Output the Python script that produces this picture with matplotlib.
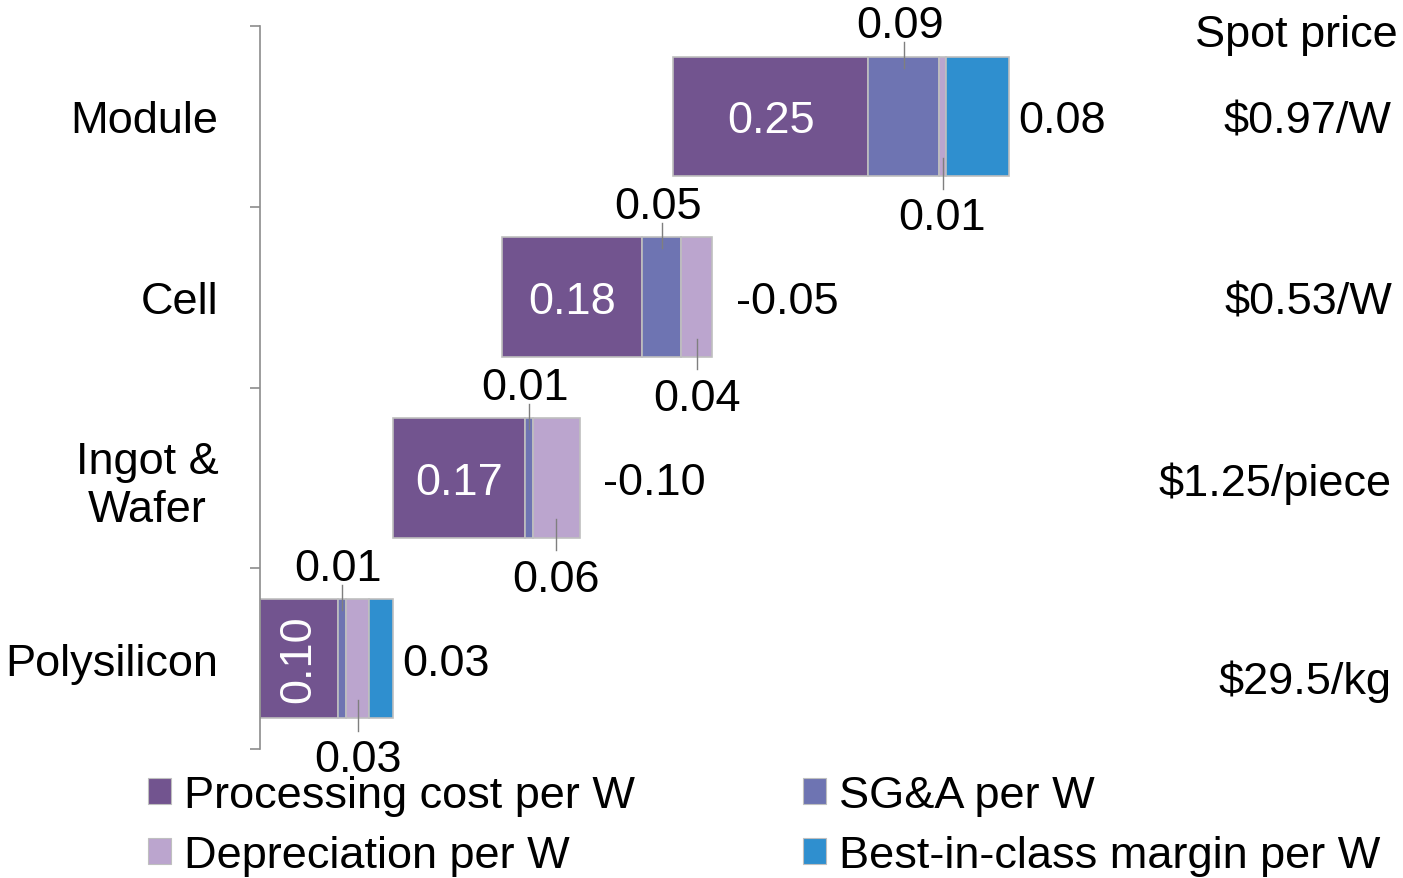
import matplotlib
matplotlib.use("Agg")
import matplotlib.pyplot as plt
import matplotlib.transforms as mtransforms
from matplotlib.patches import Patch

plt.rcParams['font.family'] = ['Liberation Sans', 'DejaVu Sans']

# value chain stages, bottom to top
stages = ['Polysilicon', 'Ingot &\nWafer', 'Cell', 'Module']
processing = [0.10, 0.17, 0.18, 0.25]
sga = [0.01, 0.01, 0.05, 0.09]
depreciation = [0.03, 0.06, 0.04, 0.01]
margin = [0.03, -0.10, -0.05, 0.08]
spot_price = ['$29.5/kg', '$1.25/piece', '$0.53/W', '$0.97/W']

series_names = ['Processing cost per W', 'SG&A per W',
                'Depreciation per W', 'Best-in-class margin per W']
colors = ['#72548F', '#6E74B2', '#BBA5CE', '#2F8FCF']

FS = 32.5
edge = '#BFBFBF'
lead = '#7F7F7F'
bh = 0.66

fig = plt.figure(figsize=(14.03, 8.79), dpi=100)
ax = fig.add_axes([260 / 1403, 1 - 750 / 879, 780 / 1403, 723 / 879])
ax.set_xlim(0, 1.0)
ax.set_ylim(-0.5, 3.5)

start = 0.0
for i in range(len(stages)):
    y = i
    left = start
    # processing cost
    ax.barh(y, processing[i], left=left, height=bh, color=colors[0],
            edgecolor=edge, linewidth=1.2)
    rot = 90 if processing[i] < 0.15 else 0
    ax.text(left + processing[i] / 2, y, f'{processing[i]:.2f}', color='white',
            ha='center', va='center_baseline' if rot == 0 else 'center',
            fontsize=FS, rotation=rot)
    left += processing[i]

    # SG&A, label above
    ax.barh(y, sga[i], left=left, height=bh, color=colors[1],
            edgecolor=edge, linewidth=1.2)
    xc = left + sga[i] / 2
    ax.plot([xc, xc], [y + bh / 2 - 0.06, y + bh / 2 + 0.08], color=lead, lw=1)
    ax.text(xc - 0.005, y + bh / 2 + 0.17, f'{sga[i]:.2f}', ha='center',
            va='center', fontsize=FS)
    left += sga[i]

    # depreciation, label below
    ax.barh(y, depreciation[i], left=left, height=bh, color=colors[2],
            edgecolor=edge, linewidth=1.2)
    xc = left + depreciation[i] / 2
    ax.plot([xc, xc], [y - bh / 2 + 0.1, y - bh / 2 - 0.07], color=lead, lw=1)
    ax.text(xc, y - bh / 2 - 0.23, f'{depreciation[i]:.2f}', ha='center',
            va='center', fontsize=FS)
    left += depreciation[i]

    # margin: drawn only when positive, label to the right
    if margin[i] > 0:
        ax.barh(y, margin[i], left=left, height=bh, color=colors[3],
                edgecolor=edge, linewidth=1.2)
        ax.text(left + margin[i] + 0.012, y, f'{margin[i]:.2f}',
                ha='left', va='center_baseline', fontsize=FS)
    else:
        ax.text(left + 0.03, y, f'{margin[i]:.2f}',
                ha='left', va='center_baseline', fontsize=FS)
    start = left + margin[i]

# axis styling
for s in ['top', 'right', 'bottom']:
    ax.spines[s].set_visible(False)
ax.spines['left'].set_color('#8C8C8C')
ax.spines['left'].set_linewidth(1.2)
ax.set_xticks([])
ax.set_yticks([-0.5, 0.5, 1.5, 2.5, 3.5])
ax.set_yticklabels([])
ax.tick_params(axis='y', which='major', length=7, color='#8C8C8C', width=1.2)
ax.set_yticks(range(len(stages)), minor=True)
ax.set_yticklabels(stages, minor=True, fontsize=FS)
ax.tick_params(axis='y', which='minor', length=0, pad=30)
for t in ax.get_yticklabels(minor=True):
    t.set_multialignment('center')

# spot price column
trans = mtransforms.blended_transform_factory(fig.transFigure, ax.transData)
fig.text(1398 / 1403, 1 - 35 / 879, 'Spot price', ha='right', va='center',
         fontsize=FS)
for i, p in enumerate(spot_price):
    dy = -0.1 if i == 0 else 0.0
    fig.text(1392 / 1403, i + dy, p, ha='right', va='center_baseline',
             fontsize=FS, transform=trans)

handles = [Patch(facecolor=c, edgecolor=edge, linewidth=0.8) for c in colors]
order = [0, 2, 1, 3]
fig.legend([handles[k] for k in order], [series_names[k] for k in order],
           ncol=2, loc='upper left', bbox_to_anchor=(148 / 1403, 1 - 776 / 879),
           frameon=False, fontsize=FS, handlelength=0.5, handleheight=0.5,
           handletextpad=0.3, columnspacing=3.72, labelspacing=0.42,
           borderpad=0, borderaxespad=0)

fig.savefig('out.png', dpi=100)
